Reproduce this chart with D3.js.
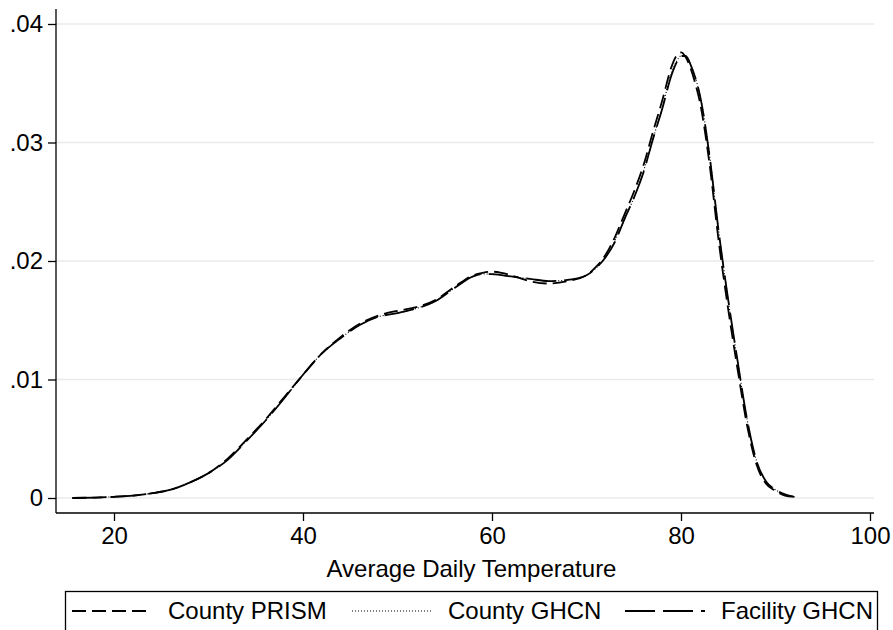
<!DOCTYPE html>
<html>
<head>
<meta charset="utf-8">
<script src="https://cdn.jsdelivr.net/npm/d3@7"></script>
<style>
  body { margin: 0; background: #fff; }
  text { font-family: "Liberation Sans", Arial, Helvetica, sans-serif; fill: #000; }
</style>
</head>
<body>
<div id="chart"></div>
<script>
// temperature grid (deg F) and density values
const temp = [15.6, 18, 20, 22, 24, 26, 28, 30, 32, 34, 36, 38, 40, 42, 44, 46, 48, 50, 52, 54, 56, 58, 59, 60, 61, 62, 64, 66, 68, 70, 71, 72, 73, 74, 75, 76, 77, 78, 79, 79.5, 80, 80.5, 81, 81.5, 82, 83, 84, 85, 86, 87, 88, 89, 90, 91, 92];

const countyPrism = [0, 0.00004, 0.0001, 0.0002, 0.0004, 0.0007, 0.0013, 0.0021, 0.0033, 0.0049, 0.0066, 0.0085, 0.0104, 0.0122, 0.0136, 0.0147, 0.0154, 0.0158, 0.0161, 0.0167, 0.0178, 0.0188, 0.0190, 0.0191, 0.0190, 0.0188, 0.0183, 0.0181, 0.0183, 0.0188, 0.0195, 0.0205, 0.0220, 0.0239, 0.0258, 0.0280, 0.0308, 0.0335, 0.0364, 0.0373, 0.0376, 0.0372, 0.0363, 0.0350, 0.0334, 0.0283, 0.0216, 0.0159, 0.0108, 0.0061, 0.0028, 0.0012, 0.0006, 0.0002, 0.0001];

const countyGhcn = [0, 0.00004, 0.0001, 0.0002, 0.0004, 0.0007, 0.0013, 0.0021, 0.0032, 0.0048, 0.0065, 0.0084, 0.0104, 0.0122, 0.0135, 0.0146, 0.0153, 0.0156, 0.0160, 0.0166, 0.0177, 0.0187, 0.0189, 0.0189, 0.0188, 0.0187, 0.0185, 0.0183, 0.0184, 0.0188, 0.0194, 0.0203, 0.0217, 0.0235, 0.0253, 0.0275, 0.0302, 0.0329, 0.0359, 0.0368, 0.0373, 0.0373, 0.0366, 0.0355, 0.0340, 0.0291, 0.0225, 0.0167, 0.0115, 0.0066, 0.0031, 0.0014, 0.0007, 0.0003, 0.0001];

const facilityGhcn = [0, 0.00004, 0.0001, 0.0002, 0.0004, 0.0007, 0.0013, 0.0021, 0.0032, 0.0048, 0.0065, 0.0084, 0.0104, 0.0122, 0.0135, 0.0146, 0.0153, 0.0156, 0.0160, 0.0166, 0.0177, 0.0187, 0.0189, 0.0189, 0.0188, 0.0187, 0.0185, 0.0183, 0.0184, 0.0188, 0.0194, 0.0203, 0.0216, 0.0235, 0.0253, 0.0274, 0.0302, 0.0328, 0.0357, 0.0367, 0.0373, 0.0373, 0.0366, 0.0355, 0.0340, 0.0290, 0.0224, 0.0167, 0.0115, 0.0066, 0.0031, 0.0014, 0.0007, 0.0003, 0.0001];

const seriesNames = ['County PRISM', 'County GHCN', 'Facility GHCN'];
const xTicks = [20, 40, 60, 80, 100];
const yTicks = [0, 0.01, 0.02, 0.03, 0.04];
const yTickLabels = ['0', '.01', '.02', '.03', '.04'];

const width = 893, height = 630;
const plot = { left: 56, right: 874, axisY: 513, top: 9 };
const fontSize = 24;

const styles = [
  { dash: '14,6', width: 1.8 },
  { dash: '1,2', width: 1.1 },
  { dash: '30,8', width: 1.8 }
];

const svg = d3.select('#chart')
  .append('svg')
  .attr('width', width)
  .attr('height', height);

const x = d3.scaleLinear().domain([20, 100]).range([114, 870]);
const y = d3.scaleLinear().domain([0, 0.04]).range([498, 24]);

// gridlines
svg.append('g')
  .selectAll('line')
  .data(yTicks)
  .enter()
  .append('line')
  .attr('x1', plot.left)
  .attr('x2', plot.right)
  .attr('y1', d => y(d))
  .attr('y2', d => y(d))
  .style('stroke', '#eaeaea')
  .style('stroke-width', 1.5);

// y axis
const yAxis = d3.axisLeft(y)
  .tickValues(yTicks)
  .tickFormat((d, i) => yTickLabels[i])
  .tickSize(8)
  .tickPadding(5);

const gy = svg.append('g')
  .attr('transform', `translate(${plot.left},0)`)
  .call(yAxis);
gy.select('.domain').remove();
gy.append('line')
  .attr('x1', 0).attr('x2', 0)
  .attr('y1', plot.top).attr('y2', plot.axisY)
  .style('stroke', '#000').style('stroke-width', 1.3);

// x axis
const xAxis = d3.axisBottom(x)
  .tickValues(xTicks)
  .tickFormat(d3.format('d'))
  .tickSize(8)
  .tickPadding(6);

const gx = svg.append('g')
  .attr('transform', `translate(0,${plot.axisY})`)
  .call(xAxis);
gx.select('.domain').remove();
gx.append('line')
  .attr('x1', plot.left).attr('x2', plot.right)
  .attr('y1', 0).attr('y2', 0)
  .style('stroke', '#000').style('stroke-width', 1.3);

svg.selectAll('.tick line')
  .style('stroke', '#000')
  .style('stroke-width', 1.3);
svg.selectAll('.tick text')
  .style('font-size', fontSize + 'px')
  .style('font-family', '"Liberation Sans", Arial, sans-serif')
  .style('fill', '#000');

svg.append('text')
  .attr('x', (plot.left + 887) / 2)
  .attr('y', 577)
  .attr('text-anchor', 'middle')
  .style('font-size', fontSize + 'px')
  .text('Average Daily Temperature');

// density curves
const line = d3.line()
  .x((d, i) => x(temp[i]))
  .y(d => y(d))
  .curve(d3.curveMonotoneX);

[countyPrism, countyGhcn, facilityGhcn].forEach((vals, i) => {
  svg.append('path')
    .datum(vals)
    .attr('d', line)
    .style('fill', 'none')
    .style('stroke', '#000')
    .style('stroke-width', styles[i].width)
    .style('stroke-dasharray', styles[i].dash);
});

// legend
const legend = svg.append('g');
legend.append('rect')
  .attr('x', 65.5)
  .attr('y', 591.5)
  .attr('width', 812)
  .attr('height', 80)
  .style('fill', 'none')
  .style('stroke', '#000')
  .style('stroke-width', 1.3);

const keyX = [72, 352, 625];
const keyY = 611;
seriesNames.forEach((name, i) => {
  legend.append('line')
    .attr('x1', keyX[i])
    .attr('x2', keyX[i] + 80)
    .attr('y1', keyY)
    .attr('y2', keyY)
    .style('stroke', '#000')
    .style('stroke-width', styles[i].width)
    .style('stroke-dasharray', styles[i].dash);
  legend.append('text')
    .attr('x', keyX[i] + 96)
    .attr('y', keyY)
    .attr('dy', '0.35em')
    .style('font-size', fontSize + 'px')
    .text(name);
});
</script>
</body>
</html>
